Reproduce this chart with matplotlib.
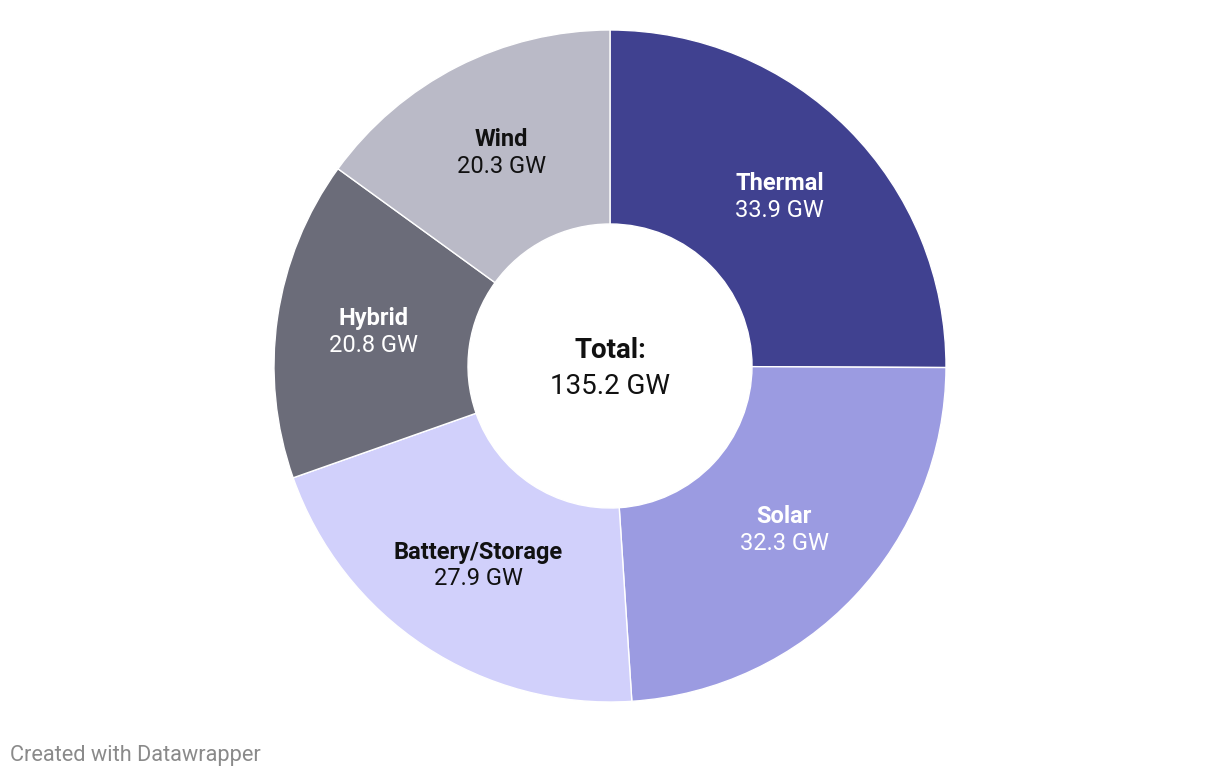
import matplotlib.pyplot as plt
import numpy as np

plt.rcParams['font.family'] = ['Roboto', 'DejaVu Sans']

categories = ['Thermal', 'Solar', 'Battery/Storage', 'Hybrid', 'Wind']
values = [33.9, 32.3, 27.9, 20.8, 20.3]
colors = ['#404190', '#9b9be1', '#d1d0fb', '#6b6c79', '#babac7']
text_colors = ['white', 'white', '#111111', 'white', '#111111']
total = 135.2

fig = plt.figure(figsize=(12.2, 7.78), dpi=100)
# axes centred on (610, 366) px with outer radius ~336 px
R = 336
cx, cy = 610, 778 - 366
ax = fig.add_axes([(cx - R) / 1220, (cy - R) / 778, 2 * R / 1220, 2 * R / 778])

inner = 142 / R
wedges, _ = ax.pie(values, colors=colors, startangle=90, counterclock=False,
                   radius=1.0,
                   wedgeprops=dict(width=1 - inner, edgecolor='white', linewidth=1))
ax.set_aspect('equal')
ax.set_xlim(-1, 1)
ax.set_ylim(-1, 1)
ax.axis('off')

mid_r = (1 + inner) / 2
for w, cat, val, tc in zip(wedges, categories, values, text_colors):
    ang = np.deg2rad((w.theta1 + w.theta2) / 2)
    x, y = mid_r * np.cos(ang), mid_r * np.sin(ang)
    ax.text(x, y + 0.04, cat, ha='center', va='center', fontsize=17,
            fontweight='bold', color=tc)
    ax.text(x, y - 0.04, f'{val} GW', ha='center', va='center', fontsize=17,
            color=tc)

ax.text(0, 0.045, 'Total:', ha='center', va='center', fontsize=20,
        fontweight='bold', color='#111111')
ax.text(0, -0.06, f'{total} GW', ha='center', va='center', fontsize=20,
        color='#111111')

fig.text(10 / 1220, 1 - 755 / 778, 'Created with Datawrapper', ha='left',
         va='center', fontsize=15.7, color='#8a8a8a')

fig.savefig('out.png', dpi=100)
